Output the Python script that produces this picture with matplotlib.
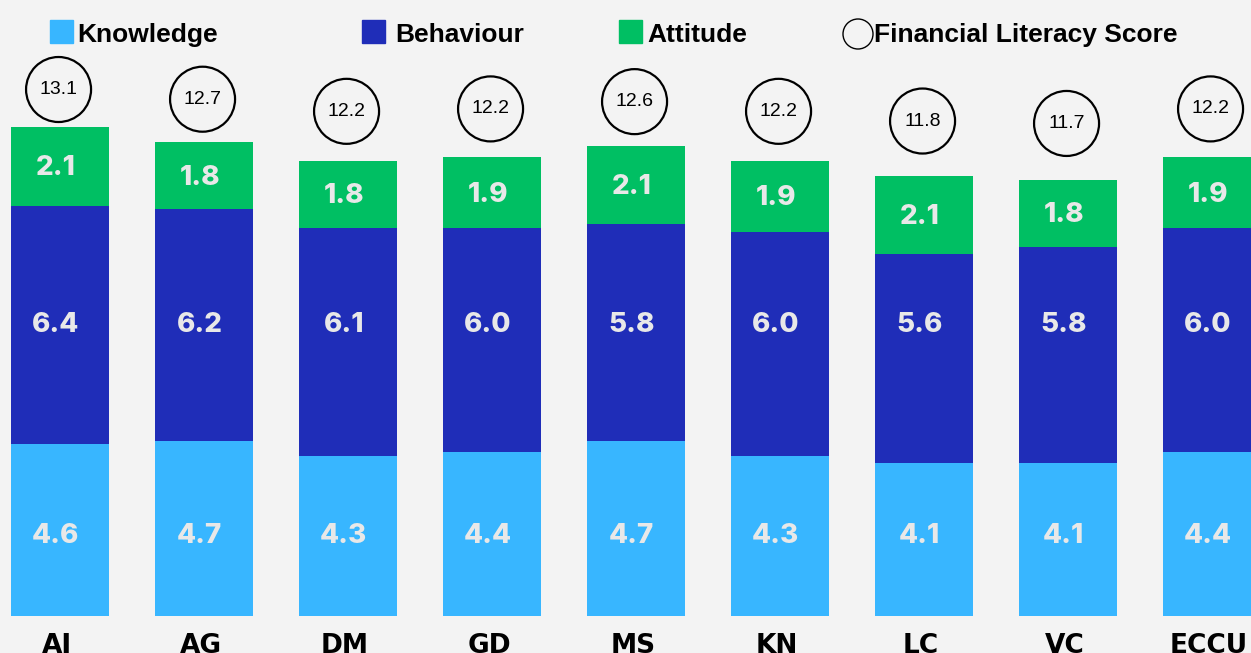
import numpy as np
import matplotlib.pyplot as plt
from matplotlib.patches import Rectangle, Ellipse

# data
countries = ["AI", "AG", "DM", "GD", "MS", "KN", "LC", "VC", "ECCU"]
knowledge = [4.6, 4.7, 4.3, 4.4, 4.7, 4.3, 4.1, 4.1, 4.4]
behaviour = [6.4, 6.2, 6.1, 6.0, 5.8, 6.0, 5.6, 5.8, 6.0]
attitude = [2.1, 1.8, 1.8, 1.9, 2.1, 1.9, 2.1, 1.8, 1.9]
score = [13.1, 12.7, 12.2, 12.2, 12.6, 12.2, 11.8, 11.7, 12.2]

cKnow = "#38b6ff"
cBeh = "#1f2db8"
cAtt = "#00bf63"
bgCol = "#f3f3f3"
lblCol = "#e8e8e8"

W, H = 1251, 653
fig = plt.figure(figsize=(W/100, H/100), dpi=100, facecolor=bgCol)
ax = fig.add_axes([0, 0, 1, 1], facecolor=bgCol)

pxUnit = 37.3
y0 = 37.0
ax.set_ylim(-y0/pxUnit, (H-y0)/pxUnit)
ax.set_xlim(-60/144.0, (W-60)/144.0)
ax.axis("off")

x = np.arange(len(countries))
know = np.array(knowledge)
beh = np.array(behaviour)
att = np.array(attitude)
bw = 98/144.0

ax.bar(x, know, width=bw, color=cKnow)
ax.bar(x, beh, width=bw, bottom=know, color=cBeh)
ax.bar(x, att, width=bw, bottom=know+beh, color=cAtt)

lblFont = dict(family="Inter", weight="heavy", fontsize=20, color=lblCol,
               ha="center", va="center")
knowLblY = 2.15
behLblY = 7.8
for i in range(len(x)):
    ax.text(x[i]-0.03, knowLblY, "%.1f" % know[i], **lblFont)
    ax.text(x[i]-0.03, behLblY, "%.1f" % beh[i], **lblFont)
    ax.text(x[i]-0.03, know[i]+beh[i]+att[i]/2-0.05, "%.1f" % att[i], **lblFont)

    tot = know[i]+beh[i]+att[i]
    cy = 0.65*tot + 5.6
    ax.add_patch(Ellipse((x[i]-0.01, cy), 65/144.0, 65/pxUnit, facecolor="none",
                         edgecolor="black", linewidth=1.6))
    ax.text(x[i]-0.01, cy, "%.1f" % score[i], family="Liberation Sans",
            fontsize=14, ha="center", va="center", color="black")

    ax.text(x[i]-0.02, -17/pxUnit, countries[i], family="DejaVu Sans",
            weight="bold", fontsize=19, ha="center", va="top", color="black")

# legend, drawn by hand
def fx(px):
    return px/float(W)

def fy(py):
    return 1 - py/float(H)

legItems = [("Knowledge", cKnow, 50, 77),
            ("Behaviour", cBeh, 362, 395),
            ("Attitude", cAtt, 619, 647)]
for name, col, sx, tx in legItems:
    fig.patches.append(Rectangle((fx(sx), fy(43)), fx(23), 23/float(H),
                                 transform=fig.transFigure, color=col))
    fig.text(fx(tx), fy(35), name, family="Liberation Sans", weight="bold",
             fontsize=19, ha="left", va="center")

fig.patches.append(Ellipse((fx(858), fy(34)), fx(30), 30/float(H),
                           transform=fig.transFigure, facecolor="none",
                           edgecolor="black", linewidth=1.0))
fig.text(fx(874), fy(35), "Financial Literacy Score", family="Liberation Sans",
         weight="bold", fontsize=19, ha="left", va="center")

fig.savefig("out.png", dpi=100, facecolor=bgCol)
